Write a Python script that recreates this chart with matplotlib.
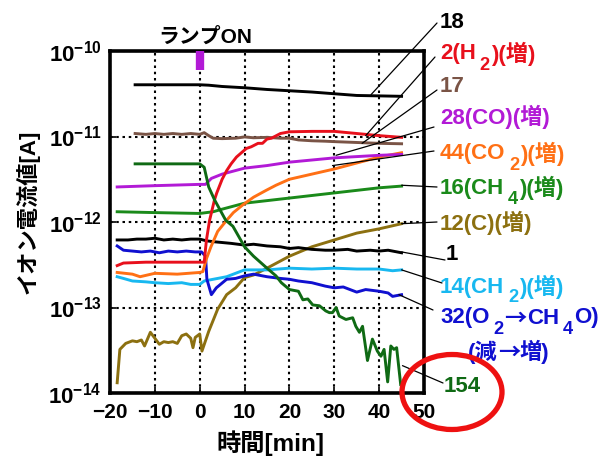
import numpy as np
import matplotlib
matplotlib.use("Agg")
import matplotlib.pyplot as plt
from matplotlib.patches import Ellipse, ConnectionPatch

plt.rcParams['mathtext.fontset'] = 'custom'
plt.rcParams['mathtext.rm'] = 'Liberation Sans:bold'
plt.rcParams['mathtext.bf'] = 'Liberation Sans:bold'
plt.rcParams['mathtext.it'] = 'Liberation Sans:bold'
FAM = ['Liberation Sans', 'Noto Sans CJK JP']
CJK = ['Noto Sans CJK JP', 'Liberation Sans']
plt.rcParams['font.family'] = FAM
plt.rcParams['font.weight'] = 'bold'

W, H = 606, 458

# ---------------- data (time [min], log10 of ion current [A]) ----------------
t_18 = [-14.4, -5, 0, 2, 5, 10, 15, 20, 25, 30, 35, 40, 45]
v_18 = [-10.395, -10.395, -10.395, -10.40, -10.415, -10.43, -10.45, -10.465, -10.48, -10.50, -10.52, -10.525, -10.53]

t_17 = [-14.4, -12, -10, -8, -6, -4, -2, 0, 1, 2, 3, 5, 8, 10, 12, 15, 18, 20, 22, 25, 28, 30, 35, 40, 45]
v_17 = [-10.965, -10.975, -10.965, -10.975, -10.965, -10.975, -10.965, -10.975, -10.955, -10.99, -11.02, -11.025,
        -11.02, -11.005, -11.015, -11.01, -11.02, -11.02, -11.04, -11.05, -11.055, -11.06, -11.07, -11.08, -11.085]

t_2 = [-18.4, -17, -12, -6, 0, 1, 1.5, 2.2, 3.3, 3.8, 5, 6, 7, 8.2, 10.4, 11.5, 13, 14, 15, 16, 18, 20, 25, 30, 35, 40, 45]
v_2 = [-12.51, -12.48, -12.47, -12.47, -12.47, -12.47, -12.21, -11.98, -11.74, -11.66, -11.50, -11.40, -11.32, -11.24,
       -11.14, -11.12, -11.08, -11.08, -11.03, -11.02, -10.965, -10.945, -10.94, -10.94, -10.965, -10.99, -11.01]

t_28 = [-18.4, -10, 0, 1.3, 2.6, 5, 10, 15, 20, 25, 30, 35, 40, 45]
v_28 = [-11.59, -11.575, -11.56, -11.56, -11.49, -11.44, -11.37, -11.34, -11.30, -11.275, -11.25, -11.235, -11.22, -11.21]

t_44 = [-18.4, -15, -13.3, -10, -5, 0, 0.7, 1.5, 2.5, 4, 6, 7.5, 9.6, 12, 14.8, 17, 20, 25, 30, 35, 40, 45]
v_44 = [-12.59, -12.61, -12.64, -12.60, -12.61, -12.59, -12.58, -12.43, -12.29, -12.11, -11.98, -11.89, -11.80,
        -11.71, -11.63, -11.57, -11.50, -11.44, -11.38, -11.31, -11.24, -11.19]

t_16 = [-18.4, -10, 0, 3, 5, 10, 15, 20, 25, 30, 35, 40, 45]
v_16 = [-11.88, -11.89, -11.90, -11.88, -11.85, -11.78, -11.75, -11.72, -11.69, -11.66, -11.63, -11.60, -11.58]

t_154 = [-14.4, 0, 1, 2, 3.3, 5.8, 7.4, 10, 12, 15, 17, 18.2, 20, 22, 23, 24.1, 25.2, 26.7, 28.1, 28.9, 29.6, 30.4,
         31.1, 32.6, 34.1, 34.8, 35.6, 36.3, 37.4, 38.5, 39.6, 40.4, 41.1, 41.9, 42.6, 43.3, 43.9, 44.8]
v_154 = [-11.32, -11.32, -11.36, -11.59, -11.74, -11.98, -12.05, -12.29, -12.40, -12.54, -12.63, -12.71, -12.79,
         -12.81, -12.91, -12.90, -12.97, -12.98, -13.04, -13.06, -13.06, -13.00, -13.10, -13.14, -13.12, -13.22,
         -13.29, -13.22, -13.62, -13.37, -13.51, -13.57, -13.49, -13.87, -13.45, -13.49, -13.47, -13.90]

t_12 = [-18.4, -17.8, -16.5, -15, -14, -13, -12.3, -11, -10, -9, -8, -7, -6, -5, -4, -3, -2, -1.5, -1, 0, 0.5,
        2, 4, 6, 8, 10, 12, 15, 20, 25, 30, 35, 40, 45]
v_12 = [-13.88, -13.49, -13.42, -13.39, -13.40, -13.38, -13.45, -13.29, -13.36, -13.43, -13.40, -13.41, -13.40,
        -13.42, -13.33, -13.31, -13.36, -13.47, -13.35, -13.31, -13.51, -13.28, -13.02, -12.85, -12.77, -12.65,
        -12.62, -12.54, -12.40, -12.29, -12.21, -12.13, -12.08, -12.02]

t_1 = [-18.4, -16, -14, -12, -10, -8, -6, -4, -2, 0, 1.5, 3, 5, 7, 10, 12, 15, 18, 20, 22, 25, 28, 30, 33, 35, 38, 40, 42, 45]
v_1 = [-12.21, -12.21, -12.20, -12.20, -12.19, -12.21, -12.20, -12.21, -12.20, -12.20, -12.22, -12.23, -12.24, -12.25,
       -12.27, -12.26, -12.28, -12.29, -12.31, -12.30, -12.32, -12.33, -12.33, -12.32, -12.34, -12.33, -12.34, -12.33, -12.36]

t_32 = [-18.4, -17, -15, -13, -11, -9, -7, -5, -3, -1, 0.4, 1.3, 1.6, 2.6, 3.7, 6, 8, 10, 12, 15, 18, 20, 22, 25,
        28, 30, 32, 35, 37, 40, 42, 43, 45]
v_32 = [-12.28, -12.33, -12.34, -12.35, -12.34, -12.36, -12.34, -12.35, -12.34, -12.35, -12.35, -12.40, -12.67,
        -12.85, -12.77, -12.67, -12.66, -12.63, -12.61, -12.64, -12.66, -12.67, -12.69, -12.71, -12.75, -12.77,
        -12.76, -12.82, -12.79, -12.81, -12.83, -12.87, -12.85]

t_14 = [-18.4, -17, -15, -12, -10, -7, -4, -2, 0, 1, 3, 6, 8, 10, 15, 20, 25, 30, 35, 40, 43, 45]
v_14 = [-12.64, -12.66, -12.69, -12.70, -12.71, -12.72, -12.71, -12.73, -12.73, -12.69, -12.67, -12.64, -12.60,
        -12.56, -12.56, -12.54, -12.55, -12.54, -12.55, -12.55, -12.57, -12.56]

x_ticks = [-20, -10, 0, 10, 20, 30, 40, 50]
y_ticks_exp = [-14, -13, -12, -11, -10]

C_BLACK = '#000000'
C_RED = '#e8101c'
C_BROWN = '#7a5446'
C_PURPLE = '#b21ad6'
C_ORANGE = '#ff7015'
C_GREEN = '#1a8a1a'
C_DKGREEN = '#0f6a14'
C_OLIVE = '#8c7010'
C_LTBLUE = '#18b8f0'
C_BLUE = '#1010d0'

series = [
    (t_12, v_12, C_OLIVE),
    (t_14, v_14, C_LTBLUE),
    (t_32, v_32, C_BLUE),
    (t_1, v_1, C_BLACK),
    (t_16, v_16, C_GREEN),
    (t_44, v_44, C_ORANGE),
    (t_28, v_28, C_PURPLE),
    (t_17, v_17, C_BROWN),
    (t_2, v_2, C_RED),
    (t_154, v_154, C_DKGREEN),
    (t_18, v_18, C_BLACK),
]

fig = plt.figure(figsize=(W / 100, H / 100), dpi=100)
ax = fig.add_axes([110 / W, 1 - 393 / H, (424 - 110) / W, (393 - 51) / H])

for t, v, c in series:
    ax.plot(t, 10 ** np.array(v), color=c, lw=2.1, solid_joinstyle='round')

# lamp on marker
ax.plot([0, 0], [1e-10, 10 ** -10.22], color=C_PURPLE, lw=6, solid_capstyle='butt', zorder=5)

ax.set_yscale('log')
ax.set_xlim(-20, 50)
ax.set_ylim(1e-14, 1e-10)
ax.set_xticks(x_ticks)
ax.set_yticks([10.0 ** e for e in y_ticks_exp])
ax.set_yticklabels([r'$10^{%d}$' % e for e in y_ticks_exp])
ax.yaxis.set_minor_locator(matplotlib.ticker.NullLocator())
ax.tick_params(axis='both', direction='in', length=4, width=1.2, labelsize=16, pad=6)
ax.tick_params(axis='x', labelsize=15, pad=7)
for lab in ax.get_xticklabels() + ax.get_yticklabels():
    lab.set_fontweight('bold')
ax.grid(True, which='major', ls=(0, (1.2, 1.8)), color='black', lw=1.5)
for s in ax.spines.values():
    s.set_linewidth(2.6)

fig.text(205 / W, 1 - 37 / H, 'ランプON', fontsize=15, fontweight='bold', ha='center', va='center', family=FAM)
fig.text(28 / W, 1 - 212 / H, 'イオン電流値[A]', fontsize=16, fontweight='bold', rotation=90,
         ha='center', va='center', family=FAM)
fig.text(270 / W, 1 - 443 / H, '時間[min]', fontsize=17.5, fontweight='bold', ha='center', va='center', family=FAM)

renderer = fig.canvas.get_renderer()


def piece_label(x_px, y_px, pieces, color, size=16):
    cur = x_px
    for piece in pieces:
        s, sub = piece[0], piece[1]
        fam = piece[2] if len(piece) > 2 else FAM
        if sub:
            fs, yy, pre, post = size * 0.82, y_px + 11, 4, 1
        else:
            fs, yy, pre, post = size, y_px, 0, 0
        cur += pre
        txt = fig.text(cur / W, 1 - yy / H, s, color=color, fontsize=fs, fontweight='bold',
                       ha='left', va='center', family=fam)
        bb = txt.get_window_extent(renderer)
        cur += bb.width + post


labels = [
    (440, 22, [('18', False)], C_BLACK),
    (440, 54, [('2(H', False), ('2', True), (')(増)', False)], C_RED),
    (440, 87, [('17', False)], C_BROWN),
    (440, 117, [('28(CO)(増)', False)], C_PURPLE),
    (440, 154, [('44(CO', False), ('2', True), (')(増)', False)], C_ORANGE),
    (440, 188, [('16(CH', False), ('4', True), (')(増)', False)], C_GREEN),
    (440, 223, [('12(C)(増)', False)], C_OLIVE),
    (446, 255, [('1', False)], C_BLACK),
    (440, 287, [('14(CH', False), ('2', True), (')(増)', False)], C_LTBLUE),
    (440, 318, [('32(O', False), ('2', True), ('→', False, CJK), ('CH', False), ('4', True), ('O)', False)], C_BLUE),
    (468, 352, [('(減', False), ('→', False, CJK), ('増)', False)], C_BLUE),
    (444, 387, [('154', False)], C_DKGREEN),
]
for x, y, p, c in labels:
    piece_label(x, y, p, c)

# leader lines: (data point on series, figure-pixel end near label)
leaders = [
    ((38.2, -10.51), (437, 23)),
    ((37.0, -10.99), (435, 57)),
    ((36.2, -11.08), (437, 90)),
    ((30.4, -11.22), (434, 127)),
    ((29.6, -11.34), (434, 151)),
    ((45.0, -11.57), (437, 187)),
    ((45.0, -12.02), (437, 222)),
    ((45.0, -12.35), (445, 260)),
    ((45.0, -12.56), (442, 283)),
    ((44.4, -12.85), (433, 310)),
    ((45.2, -13.68), (443, 383)),
]
for (tx, lv), (px, py) in leaders:
    cp = ConnectionPatch(xyA=(tx, 10 ** lv), coordsA='data', axesA=ax,
                         xyB=(px, H - py), coordsB='figure pixels',
                         color='black', lw=0.9, zorder=6)
    fig.add_artist(cp)

ell = Ellipse((452 / W, 1 - 392 / H), 100 / W, 75 / H, transform=fig.transFigure,
              fill=False, edgecolor='#ee1111', lw=3.8, zorder=10)
fig.add_artist(ell)

fig.savefig('out.png', dpi=100)
